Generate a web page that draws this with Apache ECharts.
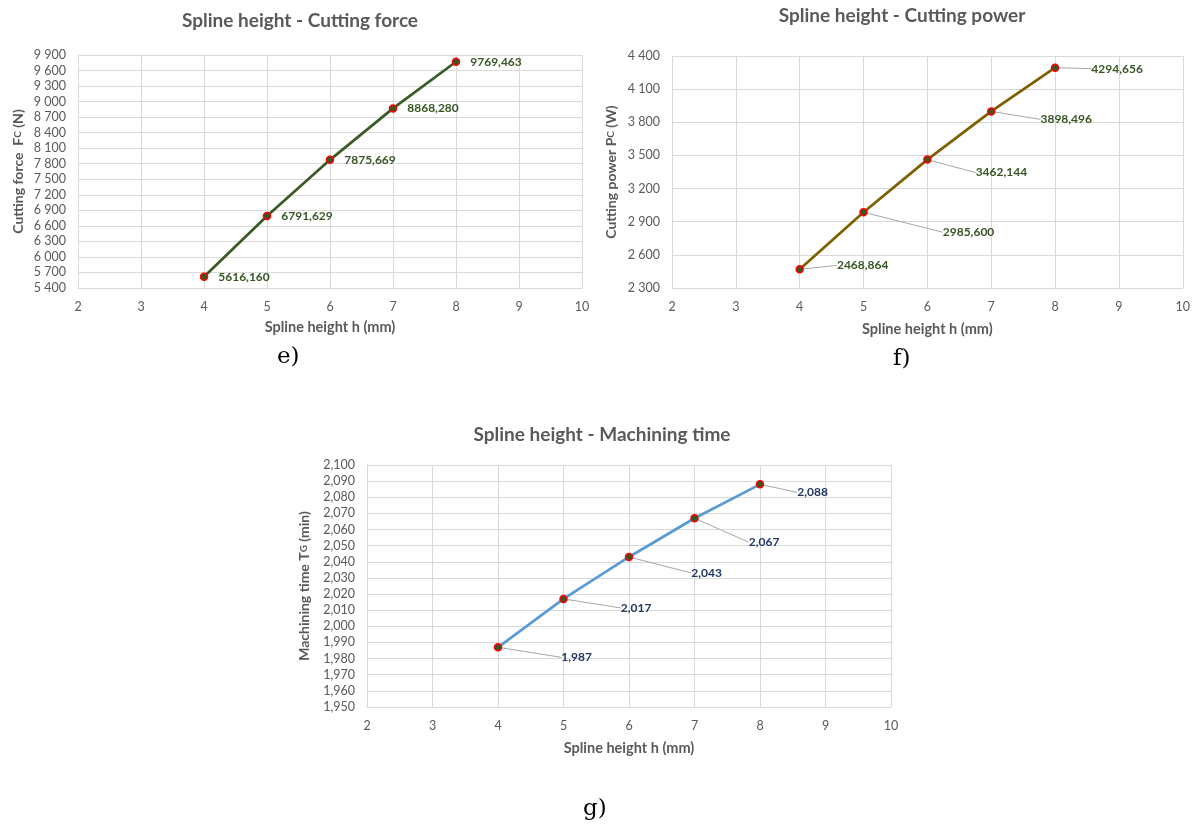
<!DOCTYPE html>
<html>
<head>
<meta charset="utf-8">
<script src="https://cdn.jsdelivr.net/npm/echarts@6/dist/echarts.min.js"></script>
<style>
  html, body { margin: 0; padding: 0; background: #fff; }
  #chart { width: 1193px; height: 824px; }
</style>
</head>
<body>
<div id="chart"></div>
<script>
// data
var splineHeight = [4, 5, 6, 7, 8];
var cuttingForce = [5616.160, 6791.629, 7875.669, 8868.280, 9769.463];
var cuttingPower = [2468.864, 2985.600, 3462.144, 3898.496, 4294.656];
var machiningTime = [1.987, 2.017, 2.043, 2.067, 2.088];

// axis ranges [min, max, step]
var heightAxis = [2, 10, 1];
var forceAxis = [5400, 9900, 300];
var powerAxis = [2300, 4400, 300];
var timeAxis = [1.95, 2.10, 0.01];

var gray = '#595959';
var gridGray = '#d9d9d9';
var font = 'Lato';

// label nudges (px) copied from the excel layout
var powerShift = [[28, -4], [70, 20], [39, 13], [40, 8], [27, 1]];
var timeShift = [[54, 10], [48, 9], [53, 16], [45, 24], [28, 8]];

function spaced(v) {
    return String(v).replace(/\B(?=(\d{3})+(?!\d))/g, ' ');
}
function comma(v, d) {
    return v.toFixed(d).replace('.', ',');
}
function pairs(ys) {
    return splineHeight.map(function (h, i) { return [h, ys[i]]; });
}

function xAxisFor(idx, gap) {
    return {
        gridIndex: idx,
        type: 'value',
        min: heightAxis[0], max: heightAxis[1], interval: heightAxis[2],
        name: 'Spline height h (mm)',
        nameLocation: 'middle',
        nameGap: gap,
        nameTextStyle: { color: gray, fontFamily: font, fontWeight: 'bold', fontSize: 14.5 },
        axisLine: { show: true, lineStyle: { color: gridGray } },
        axisTick: { show: false },
        axisLabel: { color: gray, fontFamily: font, fontSize: 12.5, margin: 12 },
        splitLine: { show: true, lineStyle: { color: gridGray } }
    };
}

function yAxisFor(idx, range, name, fmt, gap) {
    return {
        gridIndex: idx,
        type: 'value',
        min: range[0], max: range[1], interval: range[2],
        name: name,
        nameLocation: 'middle',
        nameGap: gap,
        nameRotate: 90,
        nameTextStyle: {
            color: gray, fontFamily: font, fontWeight: 'bold', fontSize: 14,
            rich: { s: { color: gray, fontFamily: font, fontWeight: 'bold', fontSize: 10 } }
        },
        axisLine: { show: true, lineStyle: { color: gridGray } },
        axisTick: { show: false },
        axisLabel: { color: gray, fontFamily: font, fontSize: 12.5, margin: 12, formatter: fmt },
        splitLine: { show: true, lineStyle: { color: gridGray } }
    };
}

function seriesFor(idx, ys, lineColor, labelColor, decimals, shift) {
    var s = {
        type: 'line',
        xAxisIndex: idx,
        yAxisIndex: idx,
        data: pairs(ys),
        symbol: 'circle',
        symbolSize: 7,
        lineStyle: { color: lineColor, width: 2.75 },
        itemStyle: { color: '#375623', borderColor: '#ff0000', borderWidth: 1.5 },
        label: {
            show: true,
            position: 'right',
            distance: 10,
            color: labelColor,
            fontFamily: font,
            fontWeight: 'bold',
            fontSize: 12,
            formatter: function (p) { return comma(p.value[1], decimals); }
        },
        z: 3
    };
    if (shift) {
        s.label.distance = 5;
        s.labelLayout = function (p) {
            var d = shift[p.dataIndex];
            return { dx: d[0], dy: d[1] };
        };
        s.labelLine = { show: true, lineStyle: { color: '#a6a6a6', width: 1 } };
    }
    return s;
}

var titleStyle = { color: gray, fontFamily: font, fontWeight: 'bold', fontSize: 19 };
var captionStyle = { fill: '#000', fontFamily: 'DejaVu Serif', fontSize: 23 };

var chart = echarts.init(document.getElementById('chart'), null, { renderer: 'canvas' });

chart.setOption({
    backgroundColor: '#fff',
    animation: false,
    title: [
        { text: 'Spline height - Cutting force', left: 295, top: 6, textAlign: 'center', textStyle: titleStyle },
        { text: 'Spline height - Cutting power', left: 897, top: 1, textAlign: 'center', textStyle: titleStyle },
        { text: 'Spline height - Machining time', left: 597, top: 420, textAlign: 'center', textStyle: titleStyle }
    ],
    grid: [
        { left: 78, top: 55, width: 504, height: 233 },
        { left: 672, top: 56, width: 511, height: 232 },
        { left: 367, top: 465, width: 524, height: 242 }
    ],
    xAxis: [xAxisFor(0, 32), xAxisFor(1, 34), xAxisFor(2, 34)],
    yAxis: [
        yAxisFor(0, forceAxis, 'Cutting force  F{s|C} (N)', spaced, 53),
        yAxisFor(1, powerAxis, 'Cutting power P{s|C} (W)', spaced, 54),
        yAxisFor(2, timeAxis, 'Machining time T{s|G} (min)', function (v) { return comma(v, 3); }, 56)
    ],
    series: [
        seriesFor(0, cuttingForce, '#3b5b26', '#375623', 3, null),
        seriesFor(1, cuttingPower, '#7f6000', '#375623', 3, powerShift),
        seriesFor(2, machiningTime, '#5b9bd5', '#203864', 3, timeShift)
    ],
    graphic: [
        { type: 'text', left: 277, top: 346, style: Object.assign({ text: 'e)' }, captionStyle) },
        { type: 'text', left: 893, top: 348, style: Object.assign({ text: 'f)' }, captionStyle) },
        { type: 'text', left: 583, top: 798, style: Object.assign({ text: 'g)' }, captionStyle) }
    ]
});
</script>
</body>
</html>
